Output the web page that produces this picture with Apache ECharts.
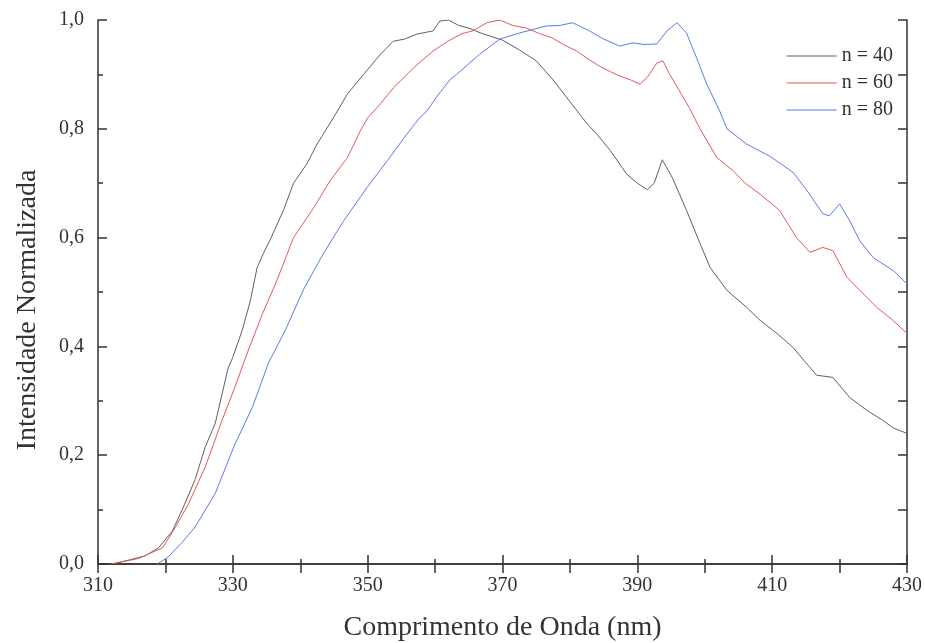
<!DOCTYPE html>
<html>
<head>
<meta charset="utf-8">
<script src="https://cdn.jsdelivr.net/npm/echarts@6/dist/echarts.min.js"></script>
<style>
  html, body { margin: 0; padding: 0; background: #fff; }
  #chart { width: 925px; height: 643px; }
</style>
</head>
<body>
<div id="chart"></div>
<script>
// values (nm, normalised intensity)
const seriesNames = ['n = 40', 'n = 60', 'n = 80'];

const wl40 = [312, 314.5, 317, 319, 321, 322.5, 324.4, 325.9, 327.4, 329.3, 330, 331.4, 332.6, 333.6, 334.5, 335.5, 337.5, 339, 341, 342.5, 344.9, 347, 349.4, 351.9, 353.8, 355.5, 357.3, 359.7, 360.7, 362, 363.5, 365, 367, 370, 372.5, 375, 377.5, 380, 382.5, 384, 386, 388.4, 390, 391.5, 392.5, 393.7, 395.2, 397.3, 399.3, 400.8, 403.3, 406.2, 408.2, 410.7, 413.1, 415, 416.6, 419, 421.5, 424, 426.4, 428, 430];
const int40 = [0.0, 0.007, 0.015, 0.03, 0.06, 0.10, 0.155, 0.215, 0.259, 0.36, 0.38, 0.43, 0.484, 0.545, 0.57, 0.595, 0.65, 0.70, 0.736, 0.772, 0.82, 0.864, 0.90, 0.937, 0.961, 0.965, 0.974, 0.98, 0.998, 1.0, 0.99, 0.985, 0.975, 0.963, 0.945, 0.925, 0.89, 0.85, 0.81, 0.79, 0.76, 0.717, 0.70, 0.688, 0.70, 0.743, 0.71, 0.65, 0.589, 0.545, 0.503, 0.472, 0.448, 0.424, 0.398, 0.37, 0.347, 0.343, 0.306, 0.283, 0.264, 0.25, 0.24];

const wl60 = [312, 316, 319.6, 321.5, 323.4, 325.9, 328.4, 330.3, 332.3, 334.4, 336.5, 339, 342, 344.4, 347, 348.9, 350, 351.9, 353.8, 356.8, 359.7, 361.9, 364, 365.6, 367.7, 369.6, 371.5, 373.6, 375.5, 377.4, 379, 381, 382.5, 384.4, 386, 387.4, 389, 390.4, 391.5, 392.9, 393.8, 394.8, 396, 397.7, 399.3, 401.8, 404.2, 406, 408.2, 411.1, 413.6, 415.6, 417.5, 419, 421.1, 423, 425.5, 427.9, 430];
const int60 = [0.0, 0.01, 0.03, 0.068, 0.11, 0.178, 0.264, 0.325, 0.393, 0.46, 0.52, 0.60, 0.655, 0.704, 0.747, 0.796, 0.82, 0.846, 0.875, 0.912, 0.943, 0.961, 0.975, 0.98, 0.995, 1.0, 0.99, 0.985, 0.975, 0.967, 0.955, 0.943, 0.93, 0.915, 0.905, 0.897, 0.89, 0.882, 0.895, 0.921, 0.925, 0.90, 0.875, 0.839, 0.80, 0.747, 0.723, 0.70, 0.68, 0.65, 0.60, 0.573, 0.582, 0.576, 0.527, 0.503, 0.472, 0.448, 0.424];

const wl80 = [318.8, 320.4, 322.5, 324.4, 327.4, 330.3, 332.9, 335.3, 337.8, 340.5, 343.4, 346.4, 349.9, 352.9, 355.8, 357.7, 358.8, 360.3, 362.2, 363.2, 366.6, 369.6, 372.5, 376.5, 378.5, 380.4, 382.9, 385, 387.4, 389.3, 391, 392.9, 394.4, 395.9, 397.3, 398.8, 400.3, 402.2, 403.3, 406.2, 409.6, 413.1, 415.2, 417.5, 418.5, 420, 421.5, 423, 425, 428, 430];
const int80 = [0.0, 0.013, 0.04, 0.068, 0.13, 0.22, 0.288, 0.37, 0.43, 0.505, 0.57, 0.63, 0.692, 0.741, 0.79, 0.82, 0.833, 0.86, 0.89, 0.90, 0.937, 0.965, 0.976, 0.989, 0.99, 0.995, 0.98, 0.965, 0.952, 0.958, 0.955, 0.956, 0.98, 0.995, 0.976, 0.93, 0.882, 0.833, 0.80, 0.772, 0.75, 0.72, 0.686, 0.644, 0.64, 0.662, 0.631, 0.594, 0.563, 0.539, 0.515];

const lineColors = ['#606060', '#e05a5a', '#5a7ee0'];

function pairs(xs, ys) {
  return xs.map((x, i) => [x, ys[i]]);
}

const font = 'Liberation Serif';
const axisColor = '#333';
const textColor = '#333';

const chart = echarts.init(document.getElementById('chart'));

const option = {
  backgroundColor: '#fff',
  animation: false,
  grid: { left: 98, right: 18, top: 20, bottom: 79, containLabel: false, outerBoundsMode: 'none' },
  legend: {
    data: seriesNames,
    orient: 'vertical',
    right: 27,
    top: 41,
    itemWidth: 50,
    itemHeight: 1,
    itemGap: 7,
    icon: 'rect',
    textStyle: { fontFamily: font, fontSize: 20, color: textColor }
  },
  xAxis: [
    {
      type: 'value',
      min: 310,
      max: 430,
      interval: 20,
      name: 'Comprimento de Onda (nm)',
      nameLocation: 'middle',
      nameGap: 50,
      nameTextStyle: { fontFamily: font, fontSize: 28, color: textColor },
      axisLine: { lineStyle: { color: axisColor, width: 1.5 } },
      axisTick: { inside: true, length: 9, lineStyle: { color: axisColor, width: 1.5 } },
      minorTick: { show: true, splitNumber: 2, length: 5, lineStyle: { color: axisColor, width: 1.5 } },
      axisLabel: { fontFamily: font, fontSize: 20, color: textColor, margin: 12 },
      splitLine: { show: false }
    },
    {
      type: 'value',
      position: 'top',
      min: 310,
      max: 430,
      interval: 10,
      axisLine: { show: true, lineStyle: { color: axisColor, width: 1.5 } },
      axisTick: { show: true, inside: true, length: 9, lineStyle: { color: axisColor, width: 1.5 } },
      axisLabel: { show: false },
      splitLine: { show: false }
    }
  ],
  yAxis: [
    {
      type: 'value',
      min: 0,
      max: 1,
      interval: 0.2,
      name: 'Intensidade Normalizada',
      nameLocation: 'middle',
      nameGap: 56,
      nameTextStyle: { fontFamily: font, fontSize: 28, color: textColor, padding: [0, 36, 0, 0] },
      axisLine: { show: true, lineStyle: { color: axisColor, width: 1.5 } },
      axisTick: { show: true, inside: true, length: 9, lineStyle: { color: axisColor, width: 1.5 } },
      minorTick: { show: true, splitNumber: 2, length: 5, lineStyle: { color: axisColor, width: 1.5 } },
      axisLabel: {
        fontFamily: font, fontSize: 20, color: textColor, margin: 14,
        formatter: v => v.toFixed(1).replace('.', ',')
      },
      splitLine: { show: false }
    },
    {
      type: 'value',
      position: 'right',
      min: 0,
      max: 1,
      interval: 0.1,
      axisLine: { show: true, lineStyle: { color: axisColor, width: 1.5 } },
      axisTick: { show: true, inside: true, length: 9, lineStyle: { color: axisColor, width: 1.5 } },
      axisLabel: { show: false },
      splitLine: { show: false }
    }
  ],
  series: [
    { name: seriesNames[0], data: pairs(wl40, int40), color: lineColors[0] },
    { name: seriesNames[1], data: pairs(wl60, int60), color: lineColors[1] },
    { name: seriesNames[2], data: pairs(wl80, int80), color: lineColors[2] }
  ].map(s => ({
    name: s.name,
    type: 'line',
    data: s.data,
    showSymbol: false,
    symbol: 'none',
    itemStyle: { color: s.color },
    lineStyle: { color: s.color, width: 1 }
  }))
};

chart.setOption(option);
</script>
</body>
</html>
